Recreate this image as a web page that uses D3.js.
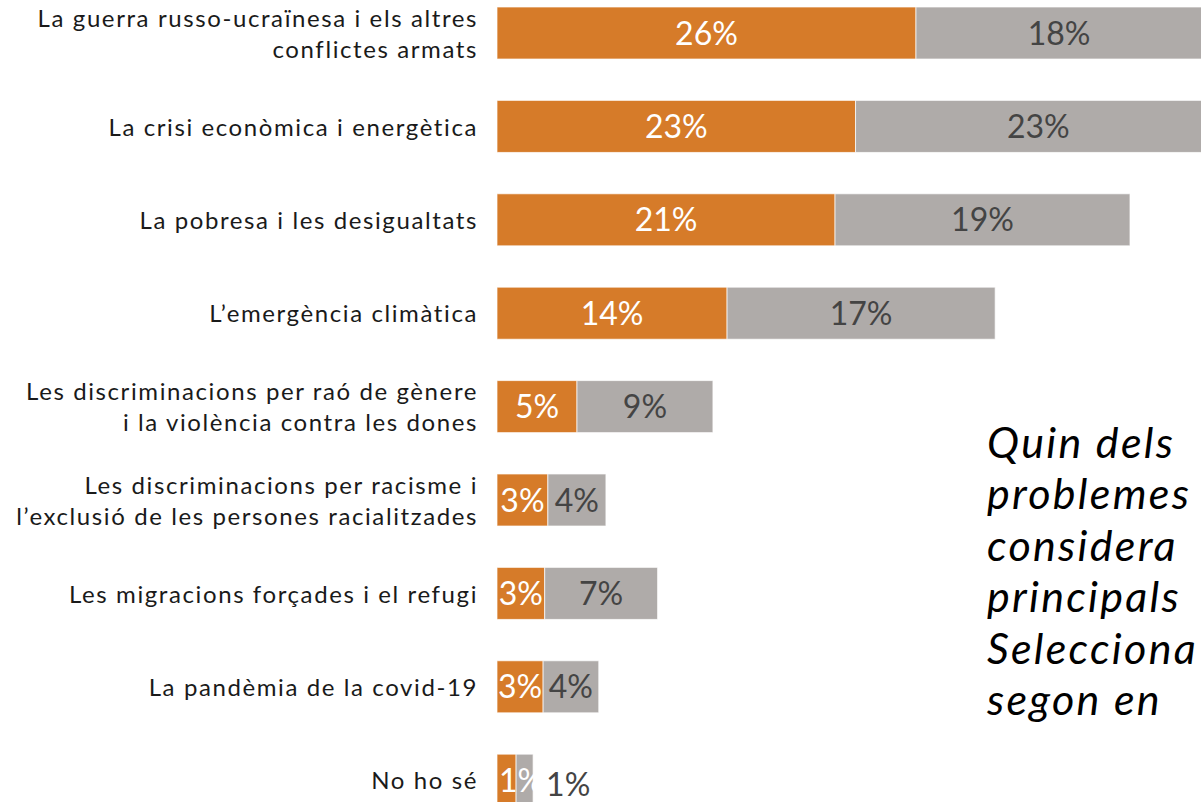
<!DOCTYPE html>
<html>
<head>
<meta charset="utf-8">
<script src="https://cdn.jsdelivr.net/npm/d3@7"></script>
<style>
  html, body { margin: 0; padding: 0; background: #fff; overflow: hidden; }
  svg { display: block; }
</style>
</head>
<body>
<div id="chart"></div>
<script>
const categories = [
  ["La guerra russo-ucraïnesa i els altres", "conflictes armats"],
  ["La crisi econòmica i energètica"],
  ["La pobresa i les desigualtats"],
  ["L’emergència climàtica"],
  ["Les discriminacions per raó de gènere", "i la violència contra les dones"],
  ["Les discriminacions per racisme i", "l’exclusió de les persones racialitzades"],
  ["Les migracions forçades i el refugi"],
  ["La pandèmia de la covid-19"],
  ["No ho sé"]
];
// first choice (orange) and second choice (grey), in %
const firstChoice  = [26.35, 22.55, 21.26, 14.47, 5.03, 3.2, 3.0, 2.9, 1.2];
const secondChoice = [18.0, 23.0, 18.55, 16.86, 8.55, 3.65, 7.1, 3.5, 1.07];
const titleLines = [
  "Quin dels",
  "problemes",
  "considera",
  "principals",
  "Selecciona",
  "segon en"
];

const W = 1201, H = 802;
const FONT = "Lato, 'Open Sans', sans-serif";
const ORANGE = "#d67b29", GREY = "#afaba9";

const svg = d3.select("#chart").append("svg")
  .attr("width", W).attr("height", H);

const keys = categories.map((c, i) => i);
const y = d3.scaleBand().domain(keys).range([7, 806.2]).paddingInner(0.443).paddingOuter(0);
const x = d3.scaleLinear().domain([0, 50]).range([497, 497 + 795]);

const rows = keys.map(i => ({
  i, cat: categories[i], a: firstChoice[i], b: secondChoice[i]
}));

const g = svg.append("g");

g.selectAll("rect.first").data(rows).join("rect")
  .attr("class", "first")
  .attr("x", d => x(0))
  .attr("y", d => y(d.i))
  .attr("width", d => x(d.a) - x(0))
  .attr("height", y.bandwidth())
  .attr("fill", ORANGE)
  .attr("stroke", "rgba(255,255,255,0.7)").attr("stroke-width", 1);

g.selectAll("rect.second").data(rows).join("rect")
  .attr("class", "second")
  .attr("x", d => x(d.a))
  .attr("y", d => y(d.i))
  .attr("width", d => x(d.a + d.b) - x(d.a))
  .attr("height", y.bandwidth())
  .attr("fill", GREY)
  .attr("stroke", "rgba(255,255,255,0.7)").attr("stroke-width", 1);

const fmt = v => Math.round(v) + "%";
const narrow = (v0, v1) => (x(v1) - x(v0)) < 30;

// value labels orange
g.selectAll("text.va").data(rows).join("text")
  .attr("class", "va")
  .attr("x", d => narrow(0, d.a) ? x(0) + 2 : (x(0) + x(d.a)) / 2)
  .attr("y", d => y(d.i) + y.bandwidth() / 2)
  .attr("dy", "0.36em")
  .attr("text-anchor", d => narrow(0, d.a) ? "start" : "middle")
  .attr("font-family", FONT).attr("font-size", 32)
  .attr("fill", "#fff")
  .text(d => fmt(d.a));

// value labels grey
g.selectAll("text.vb").data(rows).join("text")
  .attr("class", "vb")
  .attr("x", d => narrow(d.a, d.a + d.b) ? x(d.a + d.b) + 13 : (x(d.a) + x(d.a + d.b)) / 2)
  .attr("y", d => y(d.i) + y.bandwidth() / 2 + (narrow(d.a, d.a + d.b) ? 4 : 0))
  .attr("dy", "0.36em")
  .attr("text-anchor", d => narrow(d.a, d.a + d.b) ? "start" : "middle")
  .attr("font-family", FONT).attr("font-size", 32)
  .attr("fill", "#444")
  .text(d => fmt(d.b));

// category labels
const cl = g.selectAll("text.cat").data(rows).join("text")
  .attr("class", "cat")
  .attr("text-anchor", "end")
  .attr("font-family", FONT).attr("font-size", 24)
  .attr("letter-spacing", 1.6)
  .attr("fill", "#1a1a1a");
cl.each(function(d) {
  const t = d3.select(this);
  const n = d.cat.length;
  const cy = y(d.i) + y.bandwidth() / 2;
  d.cat.forEach((line, k) => {
    t.append("tspan")
      .attr("x", 478)
      .attr("y", cy + (k - (n - 1) / 2) * 31)
      .attr("dy", "0.38em")
      .text(line);
  });
});

// question text on the right
const tx = 987;
const tt = svg.append("text")
  .attr("font-family", FONT).attr("font-size", 43)
  .attr("font-style", "italic")
  .attr("fill", "#000");
titleLines.forEach((line, k) => {
  tt.append("tspan").attr("x", tx).attr("y", 458 + k * 51.4).text(line);
});
// widen letter spacing as far as the widest line still fits in the frame
let maxW = 0, maxN = 1;
tt.selectAll("tspan").each(function() {
  const w = this.getComputedTextLength();
  if (w > maxW) { maxW = w; maxN = this.textContent.length; }
});
const ls = Math.max(0, Math.min(4, (W - 3 - tx - maxW) / maxN));
tt.attr("letter-spacing", ls);
</script>
</body>
</html>
